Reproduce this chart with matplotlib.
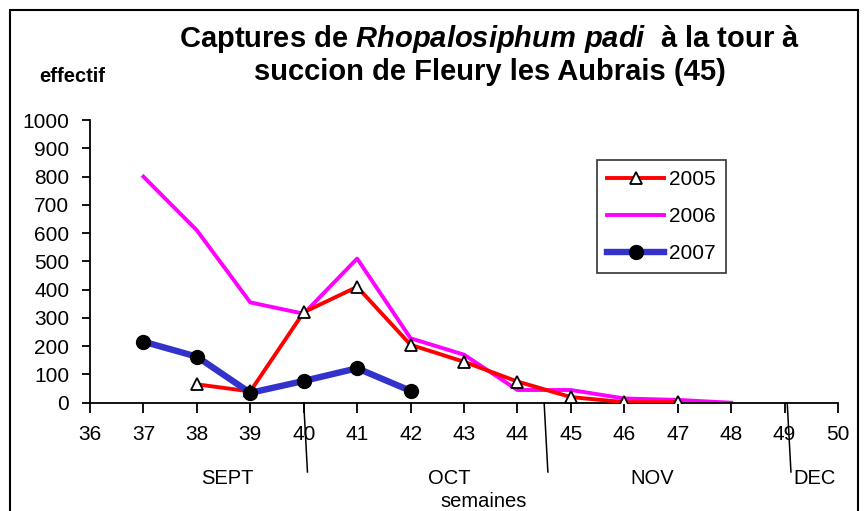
"""
Captures de Rhopalosiphum padi - tour à succion de Fleury les Aubrais.
"""

import matplotlib.pyplot as plt
from matplotlib.patches import Rectangle

plt.rcParams["font.family"] = ["Liberation Sans", "DejaVu Sans"]
plt.rcParams["mathtext.fontset"] = "custom"
plt.rcParams["mathtext.it"] = "Liberation Sans:italic:bold"
plt.rcParams["mathtext.rm"] = "Liberation Sans:bold"

# Data
WEEKS_2005 = [38, 39, 40, 41, 42, 43, 44, 45, 46, 47]
VALUES_2005 = [65, 40, 320, 410, 205, 145, 75, 20, 2, 2]

WEEKS_2006 = [37, 38, 39, 40, 41, 42, 43, 44, 45, 46, 47, 48]
VALUES_2006 = [800, 610, 355, 315, 510, 228, 170, 45, 45, 15, 10, 0]

WEEKS_2007 = [37, 38, 39, 40, 41, 42]
VALUES_2007 = [216, 163, 35, 77, 122, 42]

WEEK_TICKS = list(range(36, 51))
MONTHS = ["SEPT", "OCT", "NOV", "DEC"]
MONTH_POS = [38.58, 42.72, 46.52, 49.57]
MONTH_BOUNDS = [40.0, 44.5, 49.05]

fig = plt.figure(figsize=(8.68, 5.11), dpi=100)
ax = fig.add_axes([0.1037, 0.2119, 0.8617, 0.553])

ax.plot(WEEKS_2005, VALUES_2005, color="#ff0000", lw=2.8, marker="^",
        ms=9, mfc="white", mec="black", mew=1.3, label="2005", zorder=3)
ax.plot(WEEKS_2006, VALUES_2006, color="#ff00ff", lw=2.8, label="2006",
        zorder=2)
ax.plot(WEEKS_2007, VALUES_2007, color="#3333cc", lw=4.6, marker="o",
        ms=10, mfc="black", mec="black", label="2007", zorder=4)

ax.set_xlim(36, 50)
ax.set_ylim(0, 1000)
ax.set_xticks(WEEK_TICKS)
ax.set_yticks(range(0, 1001, 100))
ax.tick_params(axis="both", labelsize=15, width=1.3, direction="out")
ax.tick_params(axis="x", length=7, pad=9)
ax.tick_params(axis="y", length=6, pad=9)
for side in ("top", "right"):
    ax.spines[side].set_visible(False)
for side in ("left", "bottom"):
    ax.spines[side].set_linewidth(1.3)

# month separators and labels below the axis
for b in MONTH_BOUNDS:
    ax.plot([b, b + 0.07], [0, -245], color="black", lw=1.1,
            clip_on=False, zorder=1)
for m, p in zip(MONTHS, MONTH_POS):
    ax.text(p, -268, m, ha="center", va="center", fontsize=14.5,
            clip_on=False)
ax.text(43.37, -348, "semaines", ha="center", va="center", fontsize=14.5,
        clip_on=False)

leg = ax.legend(loc="upper left", bbox_to_anchor=(597 / 868, 1 - 160 / 511),
                bbox_transform=fig.transFigure, fontsize=15,
                frameon=True, fancybox=False, edgecolor="black",
                handlelength=2.7, labelspacing=0.85, borderpad=0.5,
                borderaxespad=0, handletextpad=0.25)
leg.get_frame().set_linewidth(1.2)

fig.text(72 / 868, 1 - 82 / 511, "effectif", ha="center", va="baseline",
         fontsize=14.5, fontweight="bold")
fig.text(489 / 868, 1 - 47 / 511,
         r"Captures de $Rhopalosiphum\ padi$  à la tour à",
         ha="center", va="baseline", fontsize=21, fontweight="bold")
fig.text(490 / 868, 1 - 80 / 511, "succion de Fleury les Aubrais (45)",
         ha="center", va="baseline", fontsize=21, fontweight="bold")

fig.patches.append(Rectangle((10 / 868, -0.1), 848 / 868, 1 - 10 / 511 + 0.1,
                             transform=fig.transFigure, fill=False,
                             edgecolor="black", lw=1.5))

fig.savefig("out.png", dpi=100)
